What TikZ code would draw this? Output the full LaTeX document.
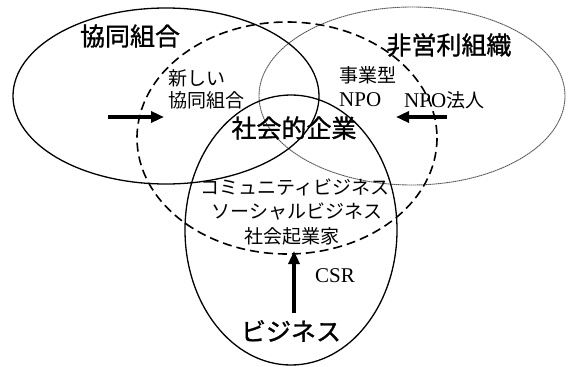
\documentclass[tikz,border=0pt]{standalone}
\usepackage{fontspec}
\newfontfamily\jp{Noto Sans CJK JP}
\newfontfamily\jpheavy[FakeBold=1.2]{Noto Sans CJK JP}
\setmainfont{Liberation Serif}
\usetikzlibrary{arrows.meta}
\tikzset{
  solidring/.style={draw=black, line width=1.3pt},
  greyring/.style={draw=black!65, line width=0.9pt, dash pattern=on 1.6pt off 0.5pt},
  dashring/.style={draw=black, line width=1.6pt, dash pattern=on 9pt off 5pt},
  biglabel/.style={font=\jpheavy\fontsize{25}{27}\selectfont, inner sep=0pt},
  smalllabel/.style={font=\jp\fontsize{19}{23}\selectfont, inner sep=0pt},
  latinlabel/.style={font=\fontsize{21}{24}\selectfont, inner sep=0pt},
  fatarrow/.style={line width=3.5pt, -{Triangle[length=13pt,width=11pt]}}
}
\begin{document}
\begin{tikzpicture}[x=1pt,y=-1pt]
\useasboundingbox (0,0) rectangle (568,367);
\fill[white] (0,0) rectangle (568,367);
% circles
\draw[greyring] (412,96) ellipse [x radius=153, y radius=89];
\draw[solidring] (166,96) ellipse [x radius=153, y radius=88];
\draw[solidring] (291,230) ellipse [x radius=106, y radius=135];
\draw[dashring] (287,138) ellipse [x radius=150, y radius=116];
% labels
\node[biglabel] (coop) at (130,36) {協同組合};
\node[biglabel] (npoorg) at (449,45) {非営利組織};
\node[biglabel] (biz) at (291,331) {ビジネス};
\node[biglabel] (se) at (294,128) {社会的企業};
\node[smalllabel, anchor=west] (newcoop1) at (168,78) {新しい};
\node[smalllabel, anchor=west] (newcoop2) at (168,100) {協同組合};
\node[smalllabel, anchor=west] (jigyo) at (339,75) {事業型};
\node[latinlabel, anchor=west] (npo) at (339,100) {NPO};
\node[anchor=west, inner sep=0pt] (npohojin) at (404,100) {\fontsize{21}{24}\selectfont NPO\jp\fontsize{19}{22}\selectfont 法人};
\node[smalllabel] (cb) at (295,187) {コミュニティビジネス};
\node[smalllabel] (sb) at (297,212) {ソーシャルビジネス};
\node[smalllabel] (sent) at (292,236) {社会起業家};
\node[latinlabel] (csr) at (335,276) {CSR};
% arrows
\coordinate (a1s) at (108,117);
\coordinate (a1e) at (164,117);
\coordinate (a2s) at (447,117);
\coordinate (a2e) at (396,117);
\coordinate (a3s) at (294,313);
\coordinate (a3e) at (294,251);
\draw[fatarrow] (a1s) -- (a1e);
\draw[fatarrow] (a2s) -- (a2e);
\draw[fatarrow] (a3s) -- (a3e);
\end{tikzpicture}
\end{document}
